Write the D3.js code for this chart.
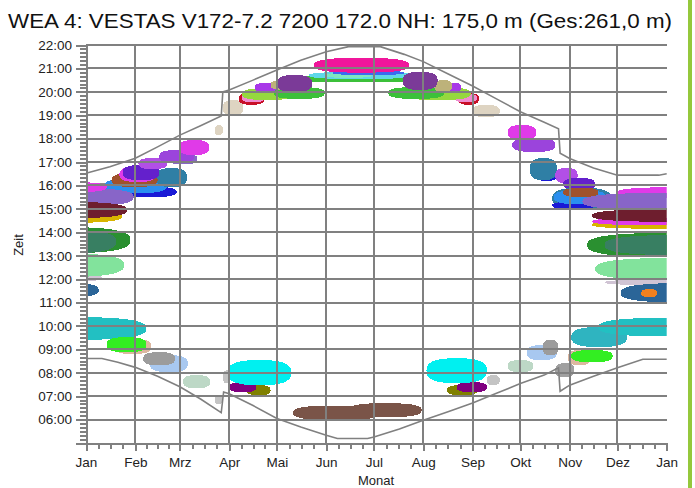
<!DOCTYPE html>
<html>
<head>
<meta charset="utf-8">
<script src="https://cdnjs.cloudflare.com/ajax/libs/d3/7.8.5/d3.min.js"></script>
<style>
  body { margin: 0; background: #fff; }
  text { font-family: "Liberation Sans", Arial, sans-serif; }
</style>
</head>
<body>
<script>
"use strict";

// month labels and start day of each month (day of year)
var months = ["Jan", "Feb", "Mrz", "Apr", "Mai", "Jun", "Jul", "Aug", "Sep", "Okt", "Nov", "Dez", "Jan"];
var monthStart = [0, 31, 59, 90, 120, 151, 181, 212, 243, 273, 304, 334, 365];
var hourTicks = [6, 7, 8, 9, 10, 11, 12, 13, 14, 15, 16, 17, 18, 19, 20, 21, 22];

// astronomical limits [day, hour]
var upperLimit = [[0, 16.52], [15, 16.8], [31, 17.16], [45, 17.65], [59, 18.15], [72, 18.55], [85, 18.97],
  [86, 20.0], [90, 20.08], [105, 20.5], [120, 20.93], [135, 21.35], [151, 21.71], [165, 21.93], [185, 21.93],
  [200, 21.6], [212, 21.29], [228, 20.75], [243, 20.25], [258, 19.7], [273, 19.15], [288, 18.7], [297, 18.42],
  [298, 17.38], [304, 17.15], [319, 16.75], [334, 16.44], [360, 16.44], [365, 16.5]];
var lowerLimit = [[0, 8.61], [10, 8.61], [20, 8.45], [31, 8.23], [45, 7.85], [59, 7.4], [72, 6.88], [85, 6.3],
  [86.5, 7.18], [90, 7.1], [105, 6.6], [120, 6.05], [135, 5.68], [151, 5.33], [158, 5.19], [177, 5.19],
  [181, 5.26], [197, 5.6], [212, 5.97], [228, 6.35], [243, 6.71], [258, 7.12], [273, 7.54], [288, 7.9],
  [297, 8.21], [298, 7.21], [304, 7.47], [319, 7.85], [334, 8.21], [350, 8.58], [365, 8.58]];

// receptor ids and their colours
var receptors = ["A", "B", "C", "D", "E", "F", "G", "H", "I", "J", "K", "L", "M", "N", "O", "P", "Q", "Q2", "R", "S",
  "T", "U", "V", "W", "X", "Y", "Z", "AA", "AB", "AC", "AD", "AE", "AF", "AG", "AH", "AI", "AJ", "AK", "AL", "AM", "AN", "AO", "AP"];
var receptorColors = ["#e03ae8", "#9b44dc", "#b24fe6", "#6420cc", "#2f7fa5", "#a0522d", "#2a8ff0", "#1a1ad6", "#8c8c8c", "#8865c8",
  "#6e1e2e", "#d8b400", "#2a9030", "#387f62", "#82e39c", "#2b6598", "#22c0c2", "#2fb4c0", "#33ee22", "#dcb8a0",
  "#9c9c9c", "#a8c8f0", "#bdd8c6", "#c4c4c4", "#ded4c2", "#f0169b", "#7b3a98", "#bdb27a", "#a838e8", "#95d83e",
  "#3cc03a", "#f08cd0", "#c81028", "#00f0f0", "#800080", "#808000", "#7a5448", "#f08020", "#d0c4d4", "#a0a0a0",
  "#5fd8e8", "#3a6cf0", "#7fe8c0"];

// shadow periods: [receptor, first day, last day, start hour, end hour]
var shadows = [
  // Jan - Apr, afternoon
  ["I", 2, 26, 15.7, 16.1], ["H", 22, 57, 15.5, 15.95], ["G", 12, 51, 15.67, 16.32], ["E", 44, 63.5, 15.93, 16.74],
  ["F", 16, 45, 15.93, 16.53], ["A", 21, 44, 16.15, 16.8], ["D", 23, 46, 16.23, 16.87], ["C", 33, 51, 16.7, 17.17],
  ["J", 52, 70, 16.9, 17.35], ["B", 46, 68, 16.96, 17.51], ["A", 58.5, 77.4, 17.3, 17.94],
  ["L", -50, 23, 14.4, 15.0], ["J", -55, 30, 15.1, 15.9], ["A", -40, 13, 15.7, 16.15], ["K", -55, 26, 14.6, 15.3],
  ["M", -55, 28, 13.11, 14.22], ["N", -45, 19, 13.1, 14.1], ["AL", -30, 10, 11.9, 12.2], ["O", -55, 24, 12.09, 13.1],
  ["P", -30, 8, 11.23, 11.83], ["Q", -60, 38, 9.4, 10.38], ["S", 18, 41, 8.8, 9.45], ["R", 13, 38, 8.88, 9.52],
  ["U", 40, 64, 8.03, 8.75], ["T", 36, 56, 8.32, 8.88], ["V", 61, 78, 7.34, 7.9], ["W", 81, 86, 6.66, 7.04],
  ["W", 86, 91, 7.55, 8.1], ["X", 81, 86, 18.15, 18.58], ["X", 86, 99, 19.0, 19.65],
  // summer evening
  ["AF", 96, 112, 19.45, 19.95], ["AE", 98, 112, 19.55, 19.92], ["AC", 98, 130, 19.65, 20.15], ["AD", 118, 150, 19.7, 20.2],
  ["AB", 106, 120, 19.99, 20.38], ["AA", 116, 133, 20.08, 20.5], ["AD", 130, 215, 20.4, 20.72], ["AN", 140, 205, 20.55, 20.85],
  ["AP", 150, 180, 20.6, 20.8], ["Z", 120, 142, 19.99, 20.72], ["AO", 155, 200, 20.72, 20.9], ["Y", 143, 203, 20.82, 21.45],
  ["AF", 234, 247, 19.45, 19.95], ["AE", 232, 246, 19.55, 19.92], ["AC", 200, 242, 19.65, 20.2], ["AD", 190, 225, 19.7, 20.2],
  ["AB", 226, 236, 19.99, 20.38], ["AA", 219, 230, 19.99, 20.5], ["Z", 199, 221, 20.08, 20.85], ["X", 243, 260, 18.92, 19.44],
  // Sep - Dez, afternoon
  ["A", 265, 283, 17.94, 18.58], ["B", 268, 295, 17.43, 18.03], ["H", 283, 296, 16.2, 16.55], ["E", 279, 296, 16.23, 17.17],
  ["C", 295, 309, 16.1, 16.74], ["D", 300, 320, 15.8, 16.32],
  ["E", 293, 330, 15.0, 15.9], ["H", 293, 320, 15.0, 15.3], ["G", 294, 327, 15.2, 15.8], ["F", 300, 322, 15.5, 15.9],
  ["A", 334, 420, 15.46, 15.93], ["J", 312, 420, 14.95, 15.68], ["L", 318, 420, 14.15, 14.5], ["A", 318, 420, 14.3, 14.62],
  ["K", 318, 420, 14.45, 14.98], ["M", 315, 420, 12.94, 13.97], ["N", 326, 420, 13.03, 13.88], ["O", 320, 420, 11.96, 12.9],
  ["AL", 326, 420, 11.74, 11.98], ["P", 336, 420, 11.0, 11.83], ["AK", 349, 359, 11.23, 11.57],
  ["Q2", 305, 340, 9.1, 9.95], ["Q", 322, 420, 9.55, 10.35], ["S", 303, 317, 8.32, 8.97], ["R", 305, 331, 8.45, 8.97],
  ["U", 277, 296, 8.54, 9.18], ["T", 287, 297, 8.75, 9.4], ["V", 265, 281, 8.03, 8.54], ["AM", 295, 307, 7.81, 8.41],
  ["W", 252, 260, 7.47, 7.9],
  // summer morning
  ["AI", 101, 116, 7.04, 7.47], ["AH", 90, 107, 7.17, 7.6], ["AG", 89, 129, 7.47, 8.54],
  ["AI", 227, 246, 7.04, 7.47], ["AH", 233, 252, 7.17, 7.6], ["AG", 214, 252, 7.56, 8.62],
  ["AJ", 130, 185, 5.98, 6.6], ["AJ", 165, 211, 6.1, 6.7]
];

var title = "WEA  4: VESTAS V172-7.2 7200 172.0 NH: 175,0 m (Ges:261,0 m)";

var W = 695, H = 488;
var x = d3.scaleLinear().domain([0, 365]).range([86, 666.7]);
var y = d3.scaleLinear().domain([5, 22]).range([443, 45]);
var color = d3.scaleOrdinal().domain(receptors).range(receptorColors);

var svg = d3.select("body").append("svg")
  .attr("width", W)
  .attr("height", H);

svg.append("defs").append("clipPath").attr("id", "plot")
  .append("rect")
  .attr("x", x(0)).attr("y", y(22))
  .attr("width", x(365) - x(0)).attr("height", y(5) - y(22));

// title
svg.append("text")
  .attr("x", 8).attr("y", 28)
  .attr("textLength", 664)
  .attr("lengthAdjust", "spacingAndGlyphs")
  .style("font-size", "21px")
  .style("fill", "#111")
  .text(title);

// shadow periods drawn as flattened (super)ellipses
var angles = d3.range(0, 2 * Math.PI, Math.PI / 24);
function blob(d) {
  var cx = x((d[1] + d[2]) / 2), rx = (x(d[2]) - x(d[1])) / 2;
  var cy = y((d[3] + d[4]) / 2), ry = (y(d[3]) - y(d[4])) / 2;
  var p = 2 / 2.7;
  return d3.line().curve(d3.curveLinearClosed)(angles.map(function (a) {
    var c = Math.cos(a), s = Math.sin(a);
    return [cx + rx * Math.sign(c) * Math.pow(Math.abs(c), p), cy + ry * Math.sign(s) * Math.pow(Math.abs(s), p)];
  }));
}
svg.append("g")
  .attr("clip-path", "url(#plot)")
  .selectAll("path")
  .data(shadows)
  .enter()
  .append("path")
  .attr("d", blob)
  .attr("shape-rendering", "crispEdges")
  .style("fill", function (d) { return color(d[0]); });

// grid
var grid = svg.append("g").style("stroke", "#808080").style("stroke-width", 2).attr("shape-rendering", "crispEdges");
grid.selectAll("line.h")
  .data(hourTicks)
  .enter().append("line")
  .attr("x1", x(0)).attr("x2", x(365))
  .attr("y1", function (d) { return y(d); })
  .attr("y2", function (d) { return y(d); });
grid.selectAll("line.v")
  .data(monthStart.slice(1, 12))
  .enter().append("line")
  .attr("x1", function (d) { return x(d); })
  .attr("x2", function (d) { return x(d); })
  .attr("y1", y(22)).attr("y2", y(5));

// limit lines
var line = d3.line()
  .x(function (d) { return x(d[0]); })
  .y(function (d) { return y(d[1]); });
svg.selectAll("path.limit")
  .data([upperLimit, lowerLimit])
  .enter().append("path")
  .attr("d", line)
  .style("fill", "none")
  .style("stroke", "#808080")
  .style("stroke-width", 1.6);

// y axis: major hours and 10 minute minor ticks
var minorY = d3.range(5, 22.01, 1 / 6);
svg.append("g")
  .attr("transform", "translate(" + x(0) + ",0)")
  .call(d3.axisLeft(y).tickValues(minorY).tickSize(6).tickFormat(""))
  .call(function (g) { g.select(".domain").remove(); });
svg.append("g")
  .attr("transform", "translate(" + x(0) + ",0)")
  .call(d3.axisLeft(y).tickValues(hourTicks).tickSize(10).tickPadding(4)
    .tickFormat(function (d) { return (d < 10 ? "0" : "") + d + ":00"; }));

// x axis: month ticks and quarter month minor ticks
var minorX = [];
monthStart.slice(0, 12).forEach(function (m, i) {
  var len = monthStart[i + 1] - m;
  for (var k = 1; k < 4; k++) minorX.push(m + len * k / 4);
});
svg.append("g")
  .attr("transform", "translate(0," + y(5) + ")")
  .call(d3.axisBottom(x).tickValues(minorX).tickSize(6).tickFormat(""))
  .call(function (g) { g.select(".domain").remove(); });
svg.append("g")
  .attr("transform", "translate(0," + y(5) + ")")
  .call(d3.axisBottom(x).tickValues(monthStart).tickSize(8).tickPadding(6)
    .tickFormat(function (d, i) { return months[i]; }));

svg.selectAll(".domain, .tick line")
  .style("stroke", "#808080")
  .style("stroke-width", 2)
  .attr("shape-rendering", "crispEdges");
svg.selectAll(".tick text")
  .style("font-size", "13.5px")
  .style("font-family", "'Liberation Sans', Arial, sans-serif")
  .style("fill", "#222");

// axis titles
svg.append("text")
  .attr("x", 376).attr("y", 485)
  .attr("text-anchor", "middle")
  .style("font-size", "13px")
  .style("fill", "#222")
  .text("Monat");
svg.append("text")
  .attr("transform", "translate(23,245) rotate(-90)")
  .attr("text-anchor", "middle")
  .style("font-size", "13px")
  .style("fill", "#222")
  .text("Zeit");

// green bar on the right
svg.append("rect")
  .attr("x", 688).attr("y", 0)
  .attr("width", 4).attr("height", H)
  .style("fill", "#95c83c");
</script>
</body>
</html>
